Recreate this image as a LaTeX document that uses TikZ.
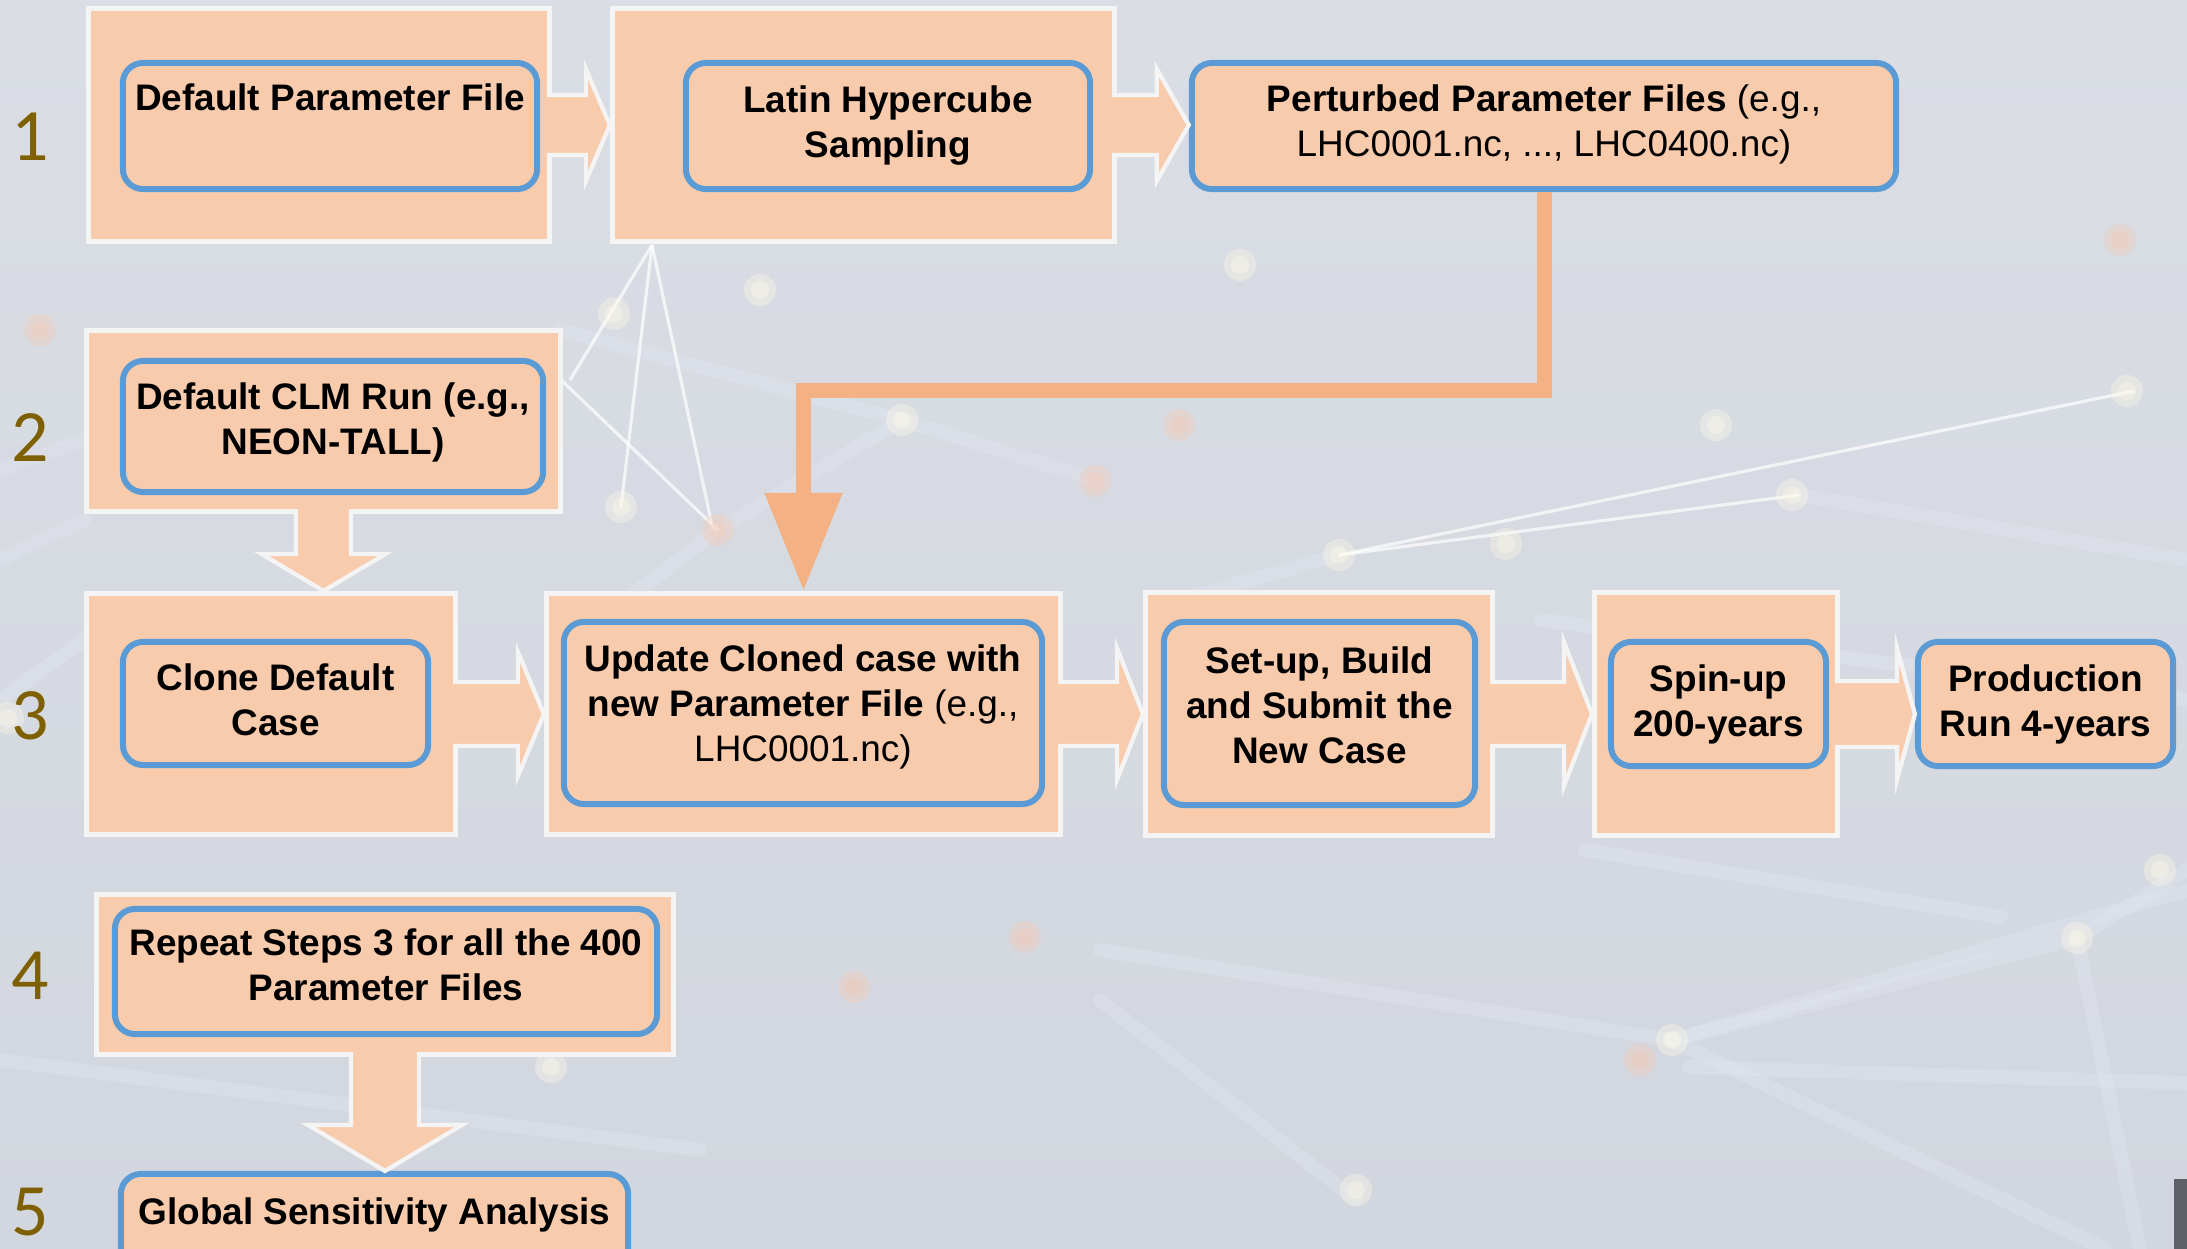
\documentclass[tikz,border=0pt]{standalone}
\usepackage{fontspec}
\setmainfont{Liberation Sans}
\newfontfamily\numfont{Carlito}
\usetikzlibrary{positioning}
\usetikzlibrary{arrows.meta, calc}
\usepackage{xcolor}

\definecolor{peach}{HTML}{F8CBAD}
\definecolor{stepblue}{HTML}{5B9BD5}
\definecolor{feedorange}{HTML}{F4B183}
\definecolor{panelline}{HTML}{F4F4F4}
\definecolor{numcolor}{HTML}{7F6000}
\definecolor{bgtop}{HTML}{DADDE4}
\definecolor{bgmid}{HTML}{CACED7}
\definecolor{bgbot}{HTML}{D2D6DE}
\definecolor{netblue}{HTML}{E4E9F2}
\definecolor{glowwhite}{HTML}{FFFBE8}
\definecolor{glowpink}{HTML}{F6C9B4}
\definecolor{darkbar}{HTML}{606168}

\begin{document}
\begin{tikzpicture}[x=0.01cm, y=-0.01cm,
  every node/.style={align=center, inner sep=0pt, font=\fontsize{10.5}{12.8}\selectfont\bfseries},
  panel/.style={rectangle, draw=panelline, line width=1.4pt, fill=peach},
  stepbox/.style={rectangle, rounded corners=0.2cm, draw=stepblue, line width=1.7pt, fill=peach},
  num/.style={font=\numfont\fontsize{21}{25}\selectfont, text=numcolor},
  fatarrow/.style={draw=panelline, line width=1.2pt, fill=peach},
  hfat/.style n args={3}{fatarrow, to path={let \p1=(\tikztostart), \p2=(\tikztotarget) in
    (\x1-0.05cm,\y1-#1) -- (\x2-#3,\y1-#1) -- (\x2-#3,\y1-#2) -- (\x2,\y1) -- (\x2-#3,\y1+#2) -- (\x2-#3,\y1+#1) -- (\x1-0.05cm,\y1+#1)}},
  vfat/.style n args={3}{fatarrow, to path={let \p1=(\tikztostart), \p2=(\tikztotarget) in
    (\x1-#1,\y1+0.05cm) -- (\x1-#1,\y2+#3) -- (\x1-#2,\y2+#3) -- (\x1,\y2) -- (\x1+#2,\y2+#3) -- (\x1+#1,\y2+#3) -- (\x1+#1,\y1+0.05cm)}},
  feed/.style={draw=feedorange, line width=0.15cm, -{Triangle[length=0.98cm, width=0.74cm]}},
  netwide/.style={draw=netblue, line width=0.14cm, opacity=0.32, line cap=round},
  netthin/.style={draw=white, line width=0.9pt, opacity=0.7},
  glow/.style={fill=#1, opacity=0.35}
]

% Background
\useasboundingbox (0,0) rectangle (2187,1249);
\shade[top color=bgtop, middle color=bgmid, bottom color=bgbot] (0,0) rectangle (2187,1249);
\foreach \xa/\ya/\xb/\yb in {1672/1040/2187/890, 1672/1040/2077/938, 2077/938/2187/870, 1672/1040/1100/950, 1672/1040/2105/1249,
  2077/938/2140/1249, 1585/850/2001/917, 1100/1000/1356/1200, 902/420/718/530, 902/420/1096/480, 560/330/902/420,
  1799/495/2187/560, 0/470/84/440, 0/560/84/520, 0/700/84/640, 718/530/560/650, 1339/555/1180/600, 1540/620/2187/700,
  0/1060/700/1150, 1689/1067/2187/1083}
  \draw[netwide] (\xa,\ya) -- (\xb,\yb);
\foreach \xa/\ya/\xb/\yb in {652/245/621/507, 652/245/713/530, 652/245/570/380, 1339/555/2134/391, 1339/555/1799/495, 558/377/718/530}
  \draw[netthin] (\xa,\ya) -- (\xb,\yb);
\foreach \px/\py in {1339/555, 1506/544, 2127/391, 902/420, 621/507, 614/314, 1672/1040, 2077/938, 2160/870,
  551/1067, 1792/495, 1716/425, 8/718, 1356/1190, 760/290, 1240/265}
  {\fill[glow=glowwhite] (\px,\py) circle[radius=0.16cm];
   \fill[glow=glowwhite] (\px,\py) circle[radius=0.09cm];}
\foreach \px/\py in {718/530, 1095/481, 1025/937, 854/987, 1179/425, 1640/1060, 2120/240, 40/330}
  {\fill[glow=glowpink] (\px,\py) circle[radius=0.16cm];
   \fill[glow=glowpink] (\px,\py) circle[radius=0.09cm];}
\fill[darkbar] (2174,1179) rectangle (2187,1249);

% Panels
\node (pA) [panel, minimum width=4.61cm, minimum height=2.33cm] at (319,125) {};
\node (pB) [panel, minimum width=5.02cm, minimum height=2.33cm] at (863.5,125) {};
\node (pClm) [panel, minimum width=4.74cm, minimum height=1.81cm] at (323.5,421) {};
\node (pClone) [panel, minimum width=3.69cm, minimum height=2.41cm] at (271,714) {};
\node (pUpd) [panel, minimum width=5.14cm, minimum height=2.41cm] at (803.5,714) {};
\node (pSet) [panel, minimum width=3.47cm, minimum height=2.43cm] at (1319,714) {};
\node (pSpin) [panel, minimum width=2.43cm, minimum height=2.43cm] at (1716,714) {};
\node (pRep) [panel, minimum width=5.77cm, minimum height=1.60cm] at (385,974.5) {};

% Steps
\node (dpf) [stepbox, minimum width=4.14cm, minimum height=1.26cm] at (330,126) {Default Parameter File\\ \strut};
\node (lhs) [stepbox, minimum width=4.04cm, minimum height=1.26cm] at (888,126) {Latin Hypercube\\Sampling\rule[-2pt]{0pt}{0pt}};
\node (ppf) [stepbox, minimum width=7.04cm, minimum height=1.26cm] at (1544,126) {Perturbed Parameter Files \textmd{(e.g.,}\\\textmd{LHC0001.nc, ..., LHC0400.nc)}\rule[-3pt]{0pt}{0pt}};
\node (clm) [stepbox, minimum width=4.20cm, minimum height=1.31cm] at (333,426.5) {Default CLM Run (e.g.,\\NEON-TALL)\rule[-4.5pt]{0pt}{0pt}};
\node (clone) [stepbox, minimum width=3.05cm, minimum height=1.23cm] at (275.5,703.5) {Clone Default\\Case\rule[-2.3pt]{0pt}{0pt}};
\node (upd) [stepbox, minimum width=4.78cm, minimum height=1.82cm] at (803,713) {Update Cloned case with\\new Parameter File \textmd{(e.g.,}\\\textmd{LHC0001.nc)}\rule[-5.5pt]{0pt}{0pt}};
\node (setup) [stepbox, minimum width=3.11cm, minimum height=1.83cm] at (1319.5,713.5) {Set-up, Build\\and Submit the\\New Case\rule[-4.5pt]{0pt}{0pt}};
\node (spin) [stepbox, minimum width=2.15cm, minimum height=1.24cm] at (1718.5,704) {Spin-up\\200-years};
\node (prod) [stepbox, minimum width=2.55cm, minimum height=1.24cm] at (2045.5,704) {Production\\Run 4-years};
\node (rep) [stepbox, minimum width=5.42cm, minimum height=1.25cm] at (386,971.5) {Repeat Steps 3 for all the 400\\Parameter Files\rule[-4pt]{0pt}{0pt}};
\node (gsa) [stepbox, minimum width=5.07cm, minimum height=1.32cm] at (374.5,1240) {Global Sensitivity Analysis\\ \strut};

% Step numbers
\node (n1) [num] at (30,137) {1};
\node (n2) [num] at (30,438) {2};
\node (n3) [num] at (30,716) {3};
\node (n4) [num] at (30,976) {4};
\node (n5) [num] at (30,1212) {5};

% Arrows
\draw[hfat={0.30cm}{0.56cm}{0.24cm}] (pA.east) to (pB.west);
\draw[hfat={0.30cm}{0.56cm}{0.32cm}] (pB.east) to (ppf.west);
\draw[vfat={0.275cm}{0.62cm}{0.37cm}] (pClm.south) to (pClone.north);
\draw[hfat={0.32cm}{0.62cm}{0.26cm}] (pClone.east) to (pUpd.west);
\draw[hfat={0.32cm}{0.66cm}{0.26cm}] (pUpd.east) to (pSet.west);
\draw[hfat={0.32cm}{0.72cm}{0.28cm}] (pSet.east) to (pSpin.west);
\draw[hfat={0.33cm}{0.66cm}{0.18cm}] (pSpin.east) to (prod.west);
\draw[vfat={0.34cm}{0.77cm}{0.46cm}] (pRep.south) to (gsa.north);
\draw[feed] (ppf.south) -- ++(0,198) -| (pUpd.north);

\end{tikzpicture}
\end{document}
